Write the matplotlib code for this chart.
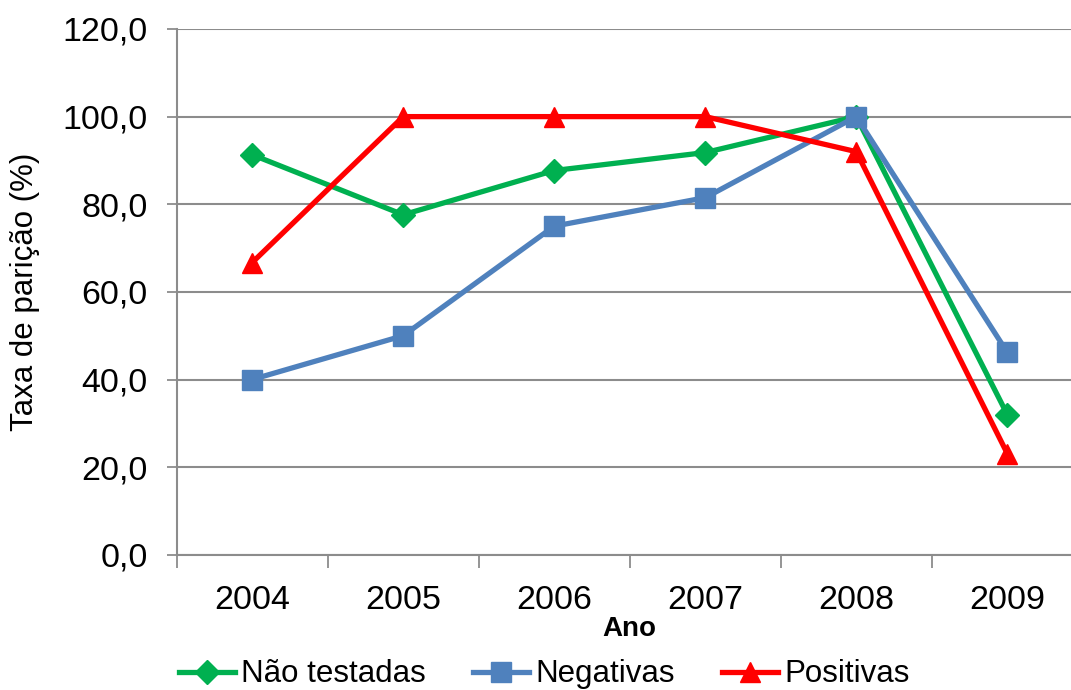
# taxa de parição por ano, por grupo de teste
import numpy as np
import matplotlib.pyplot as plt

plt.rcParams['font.family'] = ['Liberation Sans', 'DejaVu Sans']

anos = ['2004', '2005', '2006', '2007', '2008', '2009']
nao_testadas = [91.3, 77.6, 87.7, 91.8, 100.0, 32.0]
negativas = [40.0, 50.0, 75.0, 81.5, 100.0, 46.2]
positivas = [66.7, 100.0, 100.0, 100.0, 92.0, 23.1]

fig = plt.figure(figsize=(10.71, 6.9), dpi=100)
ax = fig.add_axes([0.165, 0.196, 0.846, 0.762])

x = np.arange(len(anos))
ax.plot(x, nao_testadas, color='#00B050', lw=3.8, marker='D', ms=12, label='Não testadas')
ax.plot(x, negativas, color='#4F81BD', lw=3.8, marker='s', ms=15, label='Negativas')
ax.plot(x, positivas, color='#FF0000', lw=3.8, marker='^', ms=15, label='Positivas')

ax.set_xlim(-0.5, len(anos) - 0.5)
ax.set_ylim(0, 120)
ax.set_yticks(np.arange(0, 121, 20))
ax.set_yticklabels([f'{v:.1f}'.replace('.', ',') for v in np.arange(0, 121, 20)])
ax.yaxis.grid(True, color='#8c8c8c', lw=1.5)
ax.set_axisbelow(True)

# categorias no centro, marcas de escala entre elas
ax.set_xticks(np.arange(-0.5, len(anos) + 0.5, 1))
ax.set_xticklabels([])
ax.set_xticks(x, minor=True)
ax.set_xticklabels(anos, minor=True)
ax.tick_params(axis='x', which='major', length=9, width=1.3, color='#8c8c8c', direction='out')
ax.tick_params(axis='x', which='minor', length=0, pad=22, labelsize=24.5)
ax.tick_params(axis='y', length=7, width=1.3, color='#8c8c8c', labelsize=24.5, pad=14)

for s in ['top', 'right']:
    ax.spines[s].set_visible(False)
for s in ['left', 'bottom']:
    ax.spines[s].set_color('#8c8c8c')
    ax.spines[s].set_linewidth(1.5)

ax.set_xlabel('Ano', fontsize=20, fontweight='bold', labelpad=0)
ax.set_ylabel('Taxa de parição (%)', fontsize=22.5, labelpad=16)

fig.legend(loc='lower center', bbox_to_anchor=(0.508, -0.04), ncol=3, frameon=False,
           fontsize=22.5, handlelength=1.8, handletextpad=0.2, columnspacing=1.5)

fig.savefig('out.png', dpi=100)
